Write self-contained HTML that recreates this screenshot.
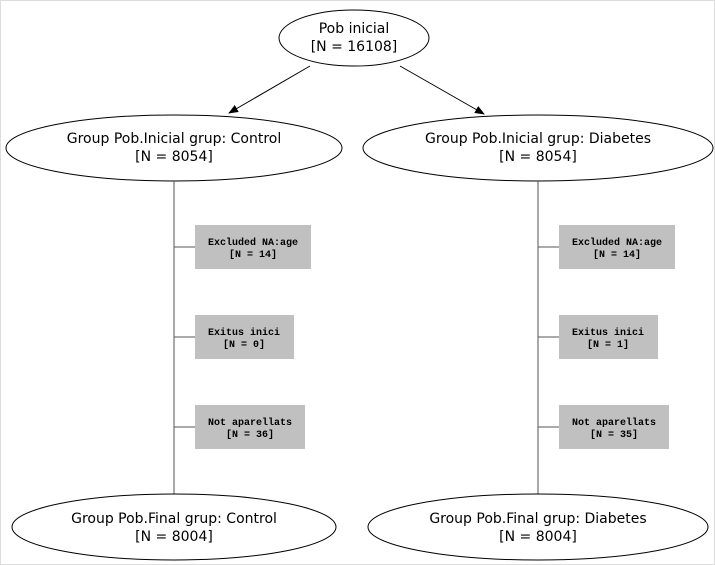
<!DOCTYPE html>
<html><head><style>body{margin:0;background:#fff}svg{display:block}</style></head><body>
<svg width="715" height="565" viewBox="0 0 715 565" xmlns="http://www.w3.org/2000/svg">
<defs><marker id="a" markerWidth="10" markerHeight="8" refX="9" refY="4" orient="auto" markerUnits="userSpaceOnUse"><path d="M0,0 L10,4 L0,8 z" fill="#000"/></marker></defs>
<rect x="0.5" y="0.5" width="714" height="564" fill="none" stroke="#ddd"/>
<g font-family="'DejaVu Sans','Liberation Sans',sans-serif" font-size="14" text-anchor="middle" fill="#000">
<ellipse cx="354" cy="38" rx="75" ry="28" fill="#fff" stroke="#000"/>
<text x="354" y="33">Pob inicial</text><text x="354" y="51">[N = 16108]</text>
<line x1="310" y1="66" x2="229" y2="113" stroke="#000" marker-end="url(#a)"/>
<line x1="400" y1="66" x2="484" y2="114" stroke="#000" marker-end="url(#a)"/>
<ellipse cx="174" cy="148" rx="168" ry="33" fill="#fff" stroke="#000"/>
<text x="174" y="143">Group Pob.Inicial  grup:  Control</text><text x="174" y="161">[N = 8054]</text>
<ellipse cx="538" cy="148" rx="175" ry="33" fill="#fff" stroke="#000"/>
<text x="538" y="143">Group Pob.Inicial  grup: Diabetes</text><text x="538" y="161">[N = 8054]</text>
<line x1="174" y1="181" x2="174" y2="494" stroke="#555"/>
<line x1="538" y1="181" x2="538" y2="494" stroke="#555"/>
<g stroke="#555"><line x1="174" y1="247" x2="195" y2="247"/><line x1="174" y1="337" x2="195" y2="337"/><line x1="174" y1="427" x2="195" y2="427"/>
<line x1="538" y1="247" x2="559" y2="247"/><line x1="538" y1="337" x2="559" y2="337"/><line x1="538" y1="427" x2="559" y2="427"/></g>
<g fill="#c0c0c0"><rect x="195" y="225" width="116" height="44"/><rect x="195" y="315" width="99" height="44"/><rect x="195" y="405" width="110" height="44"/>
<rect x="559" y="225" width="116" height="44"/><rect x="559" y="315" width="99" height="44"/><rect x="559" y="405" width="110" height="44"/></g>
<g font-family="'Liberation Mono',monospace" font-size="10" font-weight="bold">
<text x="253" y="245">Excluded NA:age</text><text x="253" y="257">[N = 14]</text>
<text x="244" y="335">Exitus inici</text><text x="244" y="347">[N = 0]</text>
<text x="250" y="425">Not aparellats</text><text x="250" y="437">[N = 36]</text>
<text x="617" y="245">Excluded NA:age</text><text x="617" y="257">[N = 14]</text>
<text x="608" y="335">Exitus inici</text><text x="608" y="347">[N = 1]</text>
<text x="614" y="425">Not aparellats</text><text x="614" y="437">[N = 35]</text>
</g>
<ellipse cx="174" cy="527" rx="162" ry="33" fill="#fff" stroke="#000"/>
<text x="174" y="523">Group Pob.Final  grup: Control</text><text x="174" y="541">[N = 8004]</text>
<ellipse cx="538" cy="527" rx="170" ry="33" fill="#fff" stroke="#000"/>
<text x="538" y="523">Group Pob.Final  grup: Diabetes</text><text x="538" y="541">[N = 8004]</text>
</g>
</svg>
</body></html>
